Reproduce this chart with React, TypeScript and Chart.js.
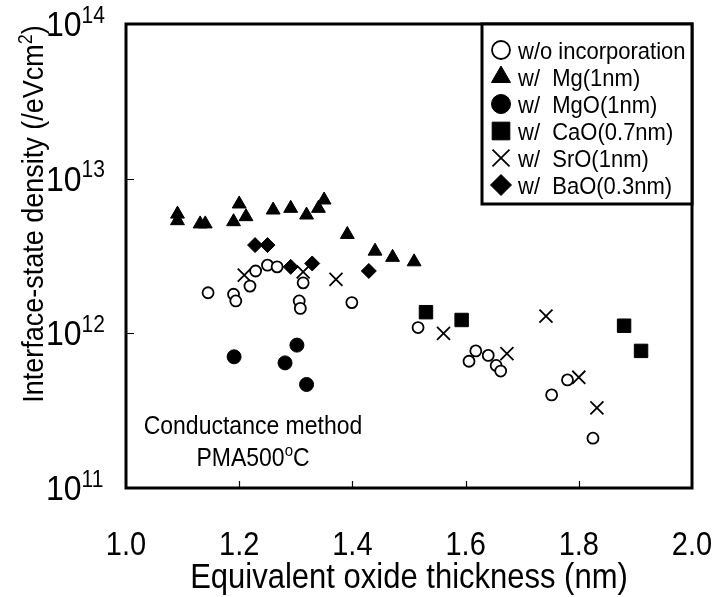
import React, { useEffect, useRef } from 'react';
import { Chart, registerables } from 'chart.js';
import { drawPoint } from 'chart.js/helpers';

Chart.register(...registerables);

// ---------- data ----------
const xTickValues = [1.0, 1.2, 1.4, 1.6, 1.8, 2.0];
const xTickLabels = ['1.0', '1.2', '1.4', '1.6', '1.8', '2.0'];
const yTickExponents = [11, 12, 13, 14];

const seriesNames = [
  'w/o incorporation',
  'w/  Mg(1nm)',
  'w/  MgO(1nm)',
  'w/  CaO(0.7nm)',
  'w/  SrO(1nm)',
  'w/  BaO(0.3nm)',
];

const noneX = [1.145, 1.19, 1.194, 1.219, 1.229, 1.25, 1.267, 1.306, 1.308, 1.313, 1.399, 1.516, 1.606, 1.618, 1.64, 1.654, 1.662, 1.752, 1.78, 1.825];
const noneY = [1.83e12, 1.79e12, 1.62e12, 2.02e12, 2.53e12, 2.76e12, 2.69e12, 1.62e12, 1.45e12, 2.12e12, 1.58e12, 1.09e12, 6.6e11, 7.7e11, 7.2e11, 6.2e11, 5.7e11, 4.0e11, 5.0e11, 2.1e11];

const mgX = [1.091, 1.091, 1.131, 1.14, 1.19, 1.2, 1.212, 1.26, 1.291, 1.319, 1.34, 1.35, 1.391, 1.44, 1.471, 1.509];
const mgY = [5.9e12, 5.35e12, 5.1e12, 5.1e12, 5.27e12, 6.86e12, 5.68e12, 6.27e12, 6.43e12, 5.82e12, 6.43e12, 7.28e12, 4.36e12, 3.4e12, 3.1e12, 2.9e12];

const mgoX = [1.191, 1.281, 1.302, 1.319];
const mgoY = [7.05e11, 6.44e11, 8.39e11, 4.67e11];

const caoX = [1.53, 1.593, 1.88, 1.91];
const caoY = [1.37e12, 1.22e12, 1.12e12, 7.7e11];

const sroX = [1.209, 1.313, 1.371, 1.561, 1.673, 1.742, 1.8, 1.832];
const sroY = [2.38e12, 2.5e12, 2.23e12, 1.0e12, 7.4e11, 1.29e12, 5.2e11, 3.3e11];

const baoX = [1.228, 1.25, 1.291, 1.329, 1.429];
const baoY = [3.72e12, 3.72e12, 2.69e12, 2.83e12, 2.53e12];

const xTitle = 'Equivalent oxide thickness (nm)';
const yTitleMain = 'Interface-state density (/eVcm';
const noteLine1 = 'Conductance method';
const noteLine2 = 'PMA500';

// ---------- styles ----------
const FONT = '"Liberation Sans", Arial, Helvetica, sans-serif';
const SY = 1.12;

const pts = (xs: number[], ys: number[]) => xs.map((x, i) => ({ x, y: ys[i] }));

type Part = { t: string; size: number; dy: number };

function rich(ctx: CanvasRenderingContext2D, parts: Part[], x: number, y: number, align: 'left' | 'center' | 'right', rot = 0, sy = SY) {
  ctx.save();
  ctx.translate(x, y);
  if (rot) ctx.rotate(rot);
  ctx.scale(1, sy);
  ctx.textBaseline = 'alphabetic';
  ctx.textAlign = 'left';
  ctx.fillStyle = '#000';
  let total = 0;
  const widths: number[] = [];
  for (const p of parts) {
    ctx.font = `${p.size}px ${FONT}`;
    const w = ctx.measureText(p.t).width;
    widths.push(w);
    total += w;
  }
  let cx = align === 'left' ? 0 : align === 'center' ? -total / 2 : -total;
  parts.forEach((p, i) => {
    ctx.font = `${p.size}px ${FONT}`;
    ctx.fillText(p.t, cx, p.dy);
    cx += widths[i];
  });
  ctx.restore();
}

const markerStyles = [
  { pointStyle: 'circle', fill: '#fff', r: 5.5, lr: 9, bw: 1.8 },
  { pointStyle: 'triangle', fill: '#000', r: 8, lr: 11, bw: 1 },
  { pointStyle: 'circle', fill: '#000', r: 7, lr: 9.5, bw: 1 },
  { pointStyle: 'rect', fill: '#000', r: 9.5, lr: 12.5, bw: 1 },
  { pointStyle: 'crossRot', fill: '#000', r: 9.2, lr: 12, bw: 1.8 },
  { pointStyle: 'rectRot', fill: '#000', r: 7.5, lr: 10.5, bw: 1 },
];

const decorPlugin = {
  id: 'decor',
  afterDatasetsDraw(chart: any) {
    const ctx: CanvasRenderingContext2D = chart.ctx;
    const { left, right, top, bottom } = chart.chartArea;
    const xs = chart.scales.x;
    const ys = chart.scales.y;
    ctx.save();
    // frame
    ctx.strokeStyle = '#000';
    ctx.lineWidth = 3;
    ctx.strokeRect(left, top, right - left, bottom - top);
    // ticks (inward)
    ctx.lineWidth = 1.2;
    ctx.beginPath();
    xTickValues.forEach((v) => {
      if (v <= 1.0 || v >= 2.0) return;
      const px = Math.round(xs.getPixelForValue(v)) + 0.5;
      ctx.moveTo(px, bottom);
      ctx.lineTo(px, bottom - 7);
    });
    yTickExponents.forEach((e) => {
      if (e === 11 || e === 14) return;
      const py = Math.round(ys.getPixelForValue(Math.pow(10, e))) + 0.5;
      ctx.moveTo(left, py);
      ctx.lineTo(left + 8, py);
    });
    ctx.stroke();

    // x tick labels
    xTickValues.forEach((v, i) => {
      const px = xs.getPixelForValue(v);
      rich(ctx, [{ t: xTickLabels[i], size: 29, dy: 0 }], px, 555, 'center');
    });
    // y tick labels
    yTickExponents.forEach((e) => {
      const py = ys.getPixelForValue(Math.pow(10, e));
      rich(ctx, [
        { t: '10', size: 32, dy: 0 },
        { t: String(e), size: 21, dy: -12 },
      ], 46, py + 12, 'left');
    });
    // axis titles
    rich(ctx, [{ t: xTitle, size: 31, dy: 0 }], (left + right) / 2, 588, 'center');
    rich(ctx, [
      { t: yTitleMain, size: 27, dy: 0 },
      { t: '2', size: 18, dy: -10 },
      { t: ')', size: 27, dy: 0 },
    ], 43, 214, 'center', -Math.PI / 2);

    // annotation
    rich(ctx, [{ t: noteLine1, size: 23, dy: 0 }], 253, 434, 'center');
    rich(ctx, [
      { t: noteLine2, size: 23, dy: 0 },
      { t: 'o', size: 15, dy: -9 },
      { t: 'C', size: 23, dy: 0 },
    ], 253, 466, 'center');

    // legend
    const lx0 = 482, ly0 = top, lx1 = right, ly1 = 204;
    ctx.fillStyle = '#fff';
    ctx.fillRect(lx0, ly0, lx1 - lx0, ly1 - ly0);
    ctx.lineWidth = 3;
    ctx.strokeStyle = '#000';
    ctx.strokeRect(lx0, ly0, lx1 - lx0, ly1 - ly0);
    seriesNames.forEach((name, i) => {
      const cy = 50 + i * 27;
      const m = markerStyles[i];
      ctx.save();
      ctx.fillStyle = m.fill;
      ctx.strokeStyle = '#000';
      ctx.lineWidth = m.bw;
      drawPoint(ctx, { pointStyle: m.pointStyle as any, radius: m.lr, rotation: 0, borderWidth: m.bw } as any, 501, cy);
      ctx.restore();
      rich(ctx, [{ t: name, size: 22, dy: 0 }], 518, cy + 9, 'left');
    });
    ctx.restore();
  },
};

export default function App() {
  const ref = useRef<HTMLCanvasElement>(null);
  useEffect(() => {
    if (!ref.current) return;
    const series = [pts(noneX, noneY), pts(mgX, mgY), pts(mgoX, mgoY), pts(caoX, caoY), pts(sroX, sroY), pts(baoX, baoY)];
    const chart = new Chart(ref.current, {
      type: 'scatter',
      data: {
        datasets: series.map((d, i) => ({
          label: seriesNames[i],
          data: d,
          pointStyle: markerStyles[i].pointStyle as any,
          pointRadius: markerStyles[i].r,
          pointHoverRadius: markerStyles[i].r,
          backgroundColor: markerStyles[i].fill,
          borderColor: '#000',
          borderWidth: markerStyles[i].bw,
          showLine: false,
        })),
      },
      options: {
        animation: false,
        responsive: false,
        devicePixelRatio: 1,
        layout: { padding: { left: 126, top: 24, right: 29, bottom: 109 } },
        plugins: { legend: { display: false }, tooltip: { enabled: false } },
        scales: {
          x: { type: 'linear', min: 1.0, max: 2.0, display: false },
          y: { type: 'logarithmic', min: 1e11, max: 1e14, display: false },
        },
      },
      plugins: [decorPlugin],
    });
    return () => chart.destroy();
  }, []);
  return (
    <div style={{ position: 'fixed', left: 0, top: 0, width: 721, height: 597, background: '#fff' }}>
      <canvas ref={ref} width={721} height={597} style={{ display: 'block', width: 721, height: 597 }} />
    </div>
  );
}
